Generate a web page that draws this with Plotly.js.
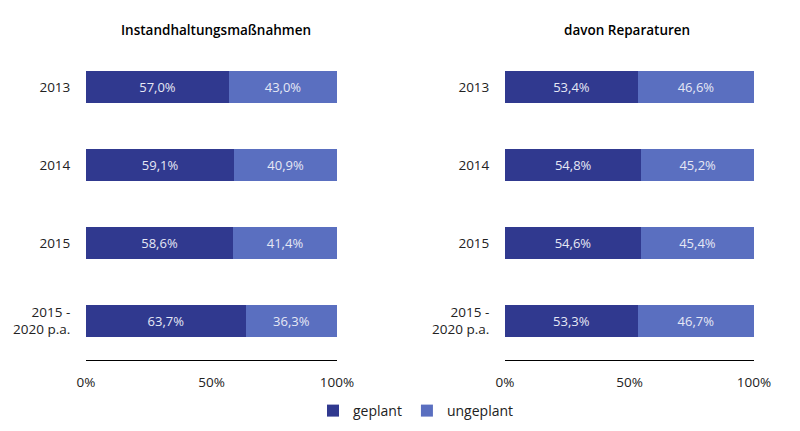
<!DOCTYPE html>
<html><head><meta charset="utf-8">
<script src="https://cdn.plot.ly/plotly-3.0.1.min.js"></script>
<style>html,body{margin:0;padding:0;background:#fff}</style>
</head><body>
<div id="chart" style="width:800px;height:431px"></div>
<script>
const categories = ["2013", "2014", "2015", "2015 -<br>2020 p.a."];
const instGeplant = [57.0, 59.1, 58.6, 63.7];
const instUngeplant = [43.0, 40.9, 41.4, 36.3];
const repGeplant = [53.4, 54.8, 54.6, 53.3];
const repUngeplant = [46.6, 45.2, 45.4, 46.7];
const titles = ["Instandhaltungsmaßnahmen", "davon Reparaturen"];
const tickVals = [0, 50, 100];
const tickText = ["0%", "50%", "100%"];

const dark = "#30398f", light = "#5a6fc0";
const fmt = v => v.toFixed(1).replace(".", ",") + "%";
const font = "Open Sans, Noto Sans, sans-serif";

function bar(vals, name, color, xa, ya, show) {
  return {
    type: "bar", orientation: "h", y: categories, x: vals, name: name,
    marker: {color: color}, width: 0.4, xaxis: xa, yaxis: ya, showlegend: show,
    text: vals.map(fmt), textposition: "inside", insidetextanchor: "middle",
    textfont: {color: "#e6e8f5", size: 13, family: font}, hoverinfo: "x+name",
    legendgroup: name
  };
}
const data = [
  bar(instGeplant, "geplant", dark, "x", "y", true),
  bar(instUngeplant, "ungeplant", light, "x", "y", true),
  bar(repGeplant, "geplant", dark, "x2", "y2", false),
  bar(repUngeplant, "ungeplant", light, "x2", "y2", false)
];
const xBase = {range: [0, 100], tickvals: tickVals, ticktext: tickText, showgrid: false,
  zeroline: false, showline: true, linecolor: "#000", linewidth: 1, ticks: "outside",
  ticklen: 10, tickcolor: "rgba(0,0,0,0)",
  tickfont: {size: 13.5, color: "#222", family: font}, fixedrange: true};
const yBase = {type: "category", autorange: false, range: [3.5, -0.5], showgrid: false, zeroline: false,
  showline: false, ticks: "outside", ticklen: 12, tickcolor: "rgba(0,0,0,0)",
  tickfont: {size: 13.5, color: "#222", family: font}, fixedrange: true};
const layout = {
  width: 800, height: 431, paper_bgcolor: "#fff", plot_bgcolor: "#fff",
  barmode: "stack", bargap: 0.6,
  margin: {l: 0, r: 0, t: 0, b: 0},
  font: {family: font},
  xaxis: Object.assign({}, xBase, {domain: [86/800, 337/800], anchor: "y"}),
  xaxis2: Object.assign({}, xBase, {domain: [505/800, 754/800], anchor: "y2"}),
  yaxis: Object.assign({}, yBase, {domain: [1 - 360/431, 1 - 48/431], anchor: "x"}),
  yaxis2: Object.assign({}, yBase, {domain: [1 - 360/431, 1 - 48/431], anchor: "x2"}),
  legend: {orientation: "h", x: 0.52, xanchor: "center", y: 1 - 411/431, yanchor: "middle",
    font: {size: 14, color: "#222", family: font}, traceorder: "normal", itemwidth: 30},
  annotations: [
    {text: titles[0], x: 216/800, y: 1 - 30/431, xref: "paper", yref: "paper", showarrow: false,
      xanchor: "center", yanchor: "middle",
      font: {size: 13.5, color: "#000", family: font, weight: 600}},
    {text: titles[1], x: 627/800, y: 1 - 30/431, xref: "paper", yref: "paper", showarrow: false,
      xanchor: "center", yanchor: "middle",
      font: {size: 13.5, color: "#000", family: font, weight: 600}}
  ]
};
Plotly.newPlot("chart", data, layout, {displayModeBar: false, staticPlot: true});
</script>
</body></html>
